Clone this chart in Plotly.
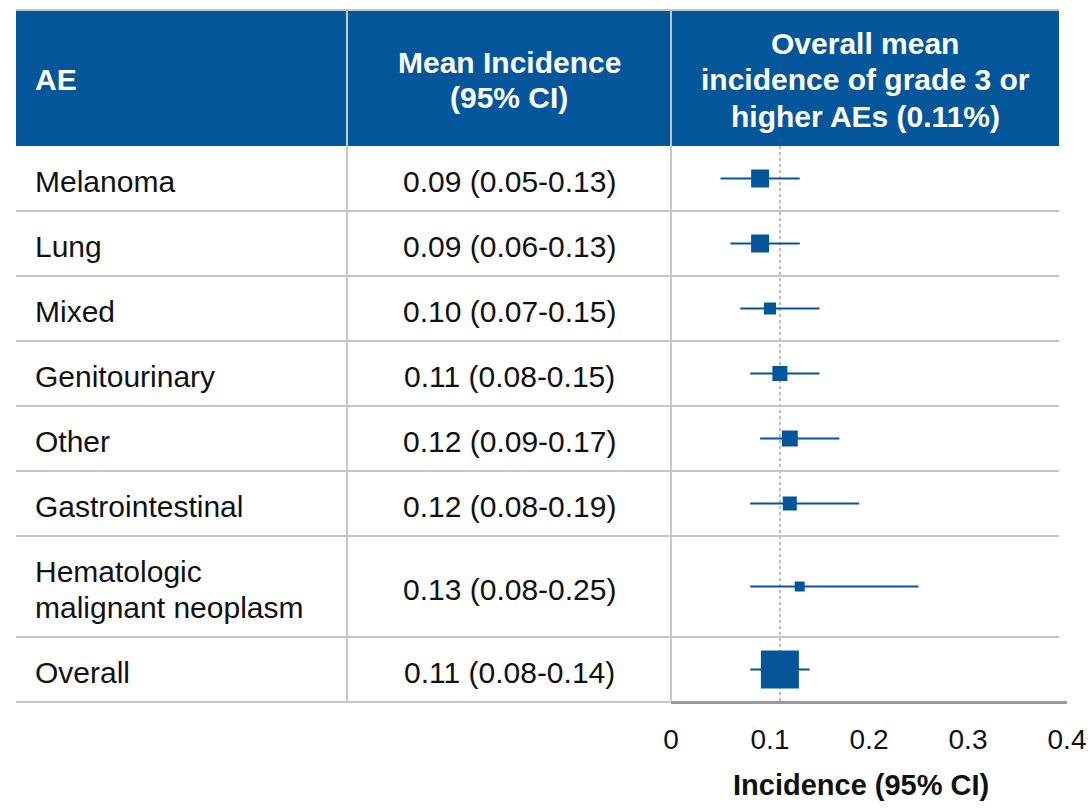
import plotly.graph_objects as go

# ---- data -------------------------------------------------------------
ae_labels = [
    "Melanoma",
    "Lung",
    "Mixed",
    "Genitourinary",
    "Other",
    "Gastrointestinal",
    "Hematologic<br>malignant neoplasm",
    "Overall",
]
mean_incidence = [0.09, 0.09, 0.10, 0.11, 0.12, 0.12, 0.13, 0.11]
ci_low = [0.05, 0.06, 0.07, 0.08, 0.09, 0.08, 0.08, 0.08]
ci_high = [0.13, 0.13, 0.15, 0.15, 0.17, 0.19, 0.25, 0.14]
# relative study weight, drawn as the side of each square (px)
weight_px = [18, 18, 12, 15, 16, 14, 10, 38]

x_ticks = [0, 0.1, 0.2, 0.3, 0.4]
x_tick_labels = ["0", "0.1", "0.2", "0.3", "0.4"]

header_titles = [
    "AE",
    "Mean Incidence<br>(95% CI)",
    "Overall mean<br>incidence of grade 3 or<br>higher AEs ({:.2f}%)",
]
x_title = "Incidence (95% CI)"

# ---- layout constants (pixels) ---------------------------------------
W, H = 1092, 811
TABLE_L, TABLE_R = 16, 1059
COL_SPLIT = [347, 671]
HEADER_TOP, HEADER_BOT = 10, 146
ROW_H, LINE_H = 65, 36
TEXT_DY = 3
TEXT_X = 34
AXIS_R = 1067

BLUE = "#03569A"
MARK = "#04559A"
GRID = "#C6C6C6"
FONT = "Liberation Sans, Arial, sans-serif"
FS = 30


def px(x):
    return x / W


def py(y):
    return 1 - y / H


def fmt(v):
    return f"{v:.2f}"


# row extents depend on how many text lines each label needs
row_tops, row_bots = [], []
y = HEADER_BOT
for lab in ae_labels:
    n = lab.count("<br>") + 1
    h = ROW_H + LINE_H * (n - 1)
    row_tops.append(y)
    row_bots.append(y + h)
    y += h
TABLE_BOT = y
row_mid = [(a + b) / 2 for a, b in zip(row_tops, row_bots)]

fig = go.Figure()

# confidence intervals + weighted squares
fig.add_trace(go.Scatter(
    x=mean_incidence,
    y=row_mid,
    mode="markers",
    marker=dict(symbol="square", size=weight_px, color=MARK, opacity=1,
                line=dict(width=0)),
    error_x=dict(
        type="data",
        symmetric=False,
        array=[h - m for h, m in zip(ci_high, mean_incidence)],
        arrayminus=[m - l for m, l in zip(mean_incidence, ci_low)],
        width=0,
        thickness=2,
        color=MARK,
    ),
    hoverinfo="skip",
    showlegend=False,
    cliponaxis=False,
))

shapes = []
# header band
shapes.append(dict(type="rect", xref="paper", yref="paper",
                   x0=px(TABLE_L), x1=px(TABLE_R), y0=py(HEADER_BOT), y1=py(HEADER_TOP),
                   fillcolor=BLUE, line=dict(width=0), layer="below"))
shapes.append(dict(type="line", xref="paper", yref="paper",
                   x0=px(TABLE_L), x1=px(TABLE_R), y0=py(HEADER_TOP), y1=py(HEADER_TOP),
                   line=dict(color=GRID, width=2)))
# row separators
for yb in row_bots[:-1]:
    shapes.append(dict(type="line", xref="paper", yref="paper",
                       x0=px(TABLE_L), x1=px(TABLE_R), y0=py(yb), y1=py(yb),
                       line=dict(color=GRID, width=2)))
shapes.append(dict(type="line", xref="paper", yref="paper",
                   x0=px(TABLE_L), x1=px(COL_SPLIT[1]), y0=py(TABLE_BOT), y1=py(TABLE_BOT),
                   line=dict(color=GRID, width=2)))
# column separators
for xc in COL_SPLIT:
    shapes.append(dict(type="line", xref="paper", yref="paper",
                       x0=px(xc), x1=px(xc), y0=py(HEADER_TOP), y1=py(TABLE_BOT),
                       line=dict(color=GRID, width=2)))
# reference line at the overall mean
overall = mean_incidence[-1]
shapes.append(dict(type="line", xref="x", yref="y",
                   x0=overall, x1=overall, y0=HEADER_BOT, y1=TABLE_BOT + 1,
                   line=dict(color="#A8A8A8", width=1.5, dash="dot"), layer="below"))

annotations = []


def add_text(text, x, y_mid, anchor, color="#111111", bold=False, size=FS):
    lines = text.split("<br>")
    n = len(lines)
    for i, ln in enumerate(lines):
        yy = y_mid + (i - (n - 1) / 2) * LINE_H
        annotations.append(dict(
            xref="paper", yref="paper", x=px(x), y=py(yy),
            text=f"<b>{ln}</b>" if bold else ln,
            showarrow=False, xanchor=anchor, yanchor="middle", borderpad=0,
            font=dict(family=FONT, size=size, color=color),
        ))


hdr_mid = (HEADER_TOP + HEADER_BOT) / 2 + 2
col2_mid = (COL_SPLIT[0] + COL_SPLIT[1]) / 2
col3_mid = (COL_SPLIT[1] + TABLE_R) / 2
add_text(header_titles[0], TEXT_X, hdr_mid, "left", "white", True)
add_text(header_titles[1], col2_mid, hdr_mid, "center", "white", True)
add_text(header_titles[2].format(overall), col3_mid, hdr_mid, "center", "white", True)

for lab, m, lo, hi, ym in zip(ae_labels, mean_incidence, ci_low, ci_high, row_mid):
    add_text(lab, TEXT_X, ym + TEXT_DY, "left")
    add_text(f"{fmt(m)} ({fmt(lo)}-{fmt(hi)})", col2_mid, ym + TEXT_DY, "center")

# axis title
add_text(x_title, 861, 785, "center", "#111111", True, 29)

fig.update_layout(
    width=W, height=H,
    margin=dict(l=0, r=0, t=0, b=0, pad=0, autoexpand=False),
    paper_bgcolor="white", plot_bgcolor="rgba(0,0,0,0)",
    shapes=shapes, annotations=annotations,
    xaxis=dict(
        domain=[px(COL_SPLIT[1]), px(AXIS_R)],
        range=[x_ticks[0], x_ticks[-1]],
        tickvals=x_ticks, ticktext=x_tick_labels,
        showgrid=False, zeroline=False,
        showline=True, linecolor="#9A9A9A", linewidth=2.5,
        ticks="outside", ticklen=12, tickcolor="rgba(0,0,0,0)",
        tickfont=dict(family=FONT, size=28, color="#111111"),
        anchor="free", position=py(TABLE_BOT),
        automargin=False, fixedrange=True,
    ),
    yaxis=dict(domain=[0, 1], range=[H, 0], visible=False, fixedrange=True,
               automargin=False),
    showlegend=False,
)

fig.write_html("out.html")
